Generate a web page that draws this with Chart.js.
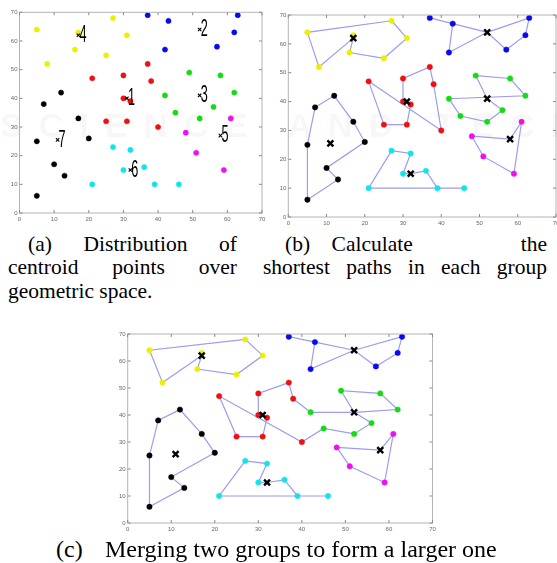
<!DOCTYPE html>
<html>
<head>
<meta charset="utf-8">
<script src="https://cdn.jsdelivr.net/npm/chart.js@4.4.1/dist/chart.umd.min.js"></script>
<style>
  html, body { margin:0; padding:0; background:#fff; width:557px; height:563px; overflow:hidden; }
  body { position:relative; }
  canvas { position:absolute; }
  .wm { position:absolute; left:0px; top:106px; font:bold 34px "Liberation Sans", Arial, sans-serif; letter-spacing:16px; color:rgba(0,0,0,0.045); white-space:nowrap; }
  .cap { position:absolute; font-family:"Liberation Serif", "Times New Roman", serif; font-size:21.5px; line-height:23.5px; color:#000; }
  .cap .ln { display:flex; justify-content:space-between; white-space:pre; height:23.5px; }
  .cap .last { white-space:pre; height:23.5px; }
  .capc { position:absolute; font-family:"Liberation Serif", "Times New Roman", serif; font-size:24px; line-height:24px; color:#000; white-space:nowrap; }
</style>
</head>
<body>
<div class="wm">SCIENCE AND TECHNOLOGY</div>
<canvas id="ca" width="272" height="228" style="left:0px;top:0px"></canvas>
<canvas id="cb" width="290" height="232" style="left:275px;top:0px"></canvas>
<canvas id="cc" width="345" height="215" style="left:100px;top:325px"></canvas>

<div class="cap" style="left:8px;top:232.5px;width:229px">
  <div class="ln" style="padding-left:20px"><span>(a)</span><span>Distribution</span><span>of</span></div>
  <div class="ln"><span>centroid</span><span>points</span><span>over</span></div>
  <div class="last">geometric space.</div>
</div>
<div class="cap" style="left:263px;top:232.5px;width:284px">
  <div class="ln" style="padding-left:22px"><span>(b)&#8195;Calculate</span><span>the</span></div>
  <div class="ln"><span>shortest</span><span>paths</span><span>in</span><span>each</span><span>group</span></div>
</div>
<div class="capc" style="left:56px;top:537px">(c)</div>
<div class="capc" style="left:105px;top:537px">Merging two groups to form a larger one</div>

<script>
// ---------------- data ----------------
const axisTicks = [0, 10, 20, 30, 40, 50, 60, 70];

const groupNames  = ['1', '2', '3', '4', '5', '6', '7'];
const groupColors = ['#ee1111', '#0a0aee', '#12dd12', '#eeee00', '#ee11ee', '#10e4ee', '#000000'];

const pointsRed     = [[21,47],[30,48],[37,52],[38,46],[30,40],[32,39],[25,32],[31,32],[40,30]];
const pointsBlue    = [[37,69],[43,67],[42,57],[57,58],[62,63],[63,69]];
const pointsGreen   = [[49,49],[58,48],[42,41],[62,42],[56,37],[45,35],[52,33]];
const pointsYellow  = [[5,64],[8,52],[16,57],[17,63],[25,55],[27,68],[31,62]];
const pointsMagenta = [[48,28],[61,33],[51,21],[59,15]];
const pointsCyan    = [[27,23],[32,22],[30,15],[36,16],[21,10],[39,10],[46,10]];
const pointsBlack   = [[12,42],[7,38],[17,33],[5,25],[20,26],[10,17],[13,13],[5,6]];

const centroids = [[31,40],[52,64],[52,41],[17,62],[58,27],[32,15],[11,25.5]];

// shortest paths in each group (b)
const pathRed     = [[21,47],[25,32],[31,32],[32,39],[30,40],[30,48],[37,52],[38,46],[40,30],[21,47]];
const pathBlue    = [[37,69],[43,67],[52,64],[57,58],[62,63],[63,69],[52,64],[42,57],[43,67]];
const pathGreen   = [[49,49],[58,48],[62,42],[42,41],[45,35],[52,33],[56,37],[52,41],[49,49]];
const pathYellow  = [[27,68],[31,62],[25,55],[16,57],[17,62],[8,52],[5,64],[27,68]];
const pathMagenta = [[48,28],[58,27],[61,33],[59,15],[51,21],[48,28]];
const pathCyan    = [[39,10],[36,16],[32,15],[30,15],[32,22],[27,23],[21,10],[46,10]];
const pathBlack   = [[5,6],[13,13],[10,17],[20,26],[17,33],[12,42],[7,38],[5,25],[5,6]];

// merged red + green path (c)
const pathMerged  = [[38,46],[42,41],[52,41],[62,42],[58,48],[49,49],[52,41],[56,37],[52,33],[45,35],[40,30],
                     [21,47],[25,32],[31,32],[32,39],[30,40],[30,48],[37,52],[38,46]];

// ---------------- helpers ----------------
const groupPoints = [pointsRed, pointsBlue, pointsGreen, pointsYellow, pointsMagenta, pointsCyan, pointsBlack];
const toXY = arr => arr.map(p => ({x:p[0], y:p[1]}));
const LINE_COLOR = '#9c9cf0';

function pointDatasets(radius) {
  return groupPoints.map((pts, i) => ({
    type:'scatter', data:toXY(pts), order:1,
    pointRadius:radius, pointHoverRadius:radius,
    backgroundColor:groupColors[i], borderColor:groupColors[i], borderWidth:0.5
  }));
}
function pathDatasets(paths) {
  return paths.map(p => ({
    type:'scatter', data:toXY(p), order:2, showLine:true,
    borderColor:LINE_COLOR, borderWidth:1.2, pointRadius:0, fill:false, tension:0
  }));
}
function centroidDataset(radius, width) {
  return {
    type:'scatter', data:toXY(centroids), order:0,
    pointStyle:'crossRot', pointRadius:radius, pointHoverRadius:radius,
    borderColor:'#000', backgroundColor:'#000', borderWidth:width
  };
}

const boxPlugin = {
  id:'box',
  afterDraw(chart) {
    const {ctx, chartArea:a, scales} = chart;
    ctx.save();
    ctx.strokeStyle = '#b4b4b4';
    ctx.lineWidth = 1;
    ctx.strokeRect(a.left, a.top, a.right - a.left, a.bottom - a.top);
    ctx.strokeStyle = '#8a8a8a';
    ctx.beginPath();
    axisTicks.forEach(v => {
      const px = scales.x.getPixelForValue(v);
      const py = scales.y.getPixelForValue(v);
      ctx.moveTo(px, a.bottom); ctx.lineTo(px, a.bottom - 3);
      ctx.moveTo(px, a.top);    ctx.lineTo(px, a.top + 3);
      ctx.moveTo(a.left, py);   ctx.lineTo(a.left + 3, py);
      ctx.moveTo(a.right, py);  ctx.lineTo(a.right - 3, py);
    });
    ctx.stroke();
    ctx.restore();
  }
};

const labelPlugin = {
  id:'centroidLabels',
  afterDatasetsDraw(chart) {
    const {ctx, scales} = chart;
    ctx.save();
    ctx.fillStyle = '#000';
    ctx.font = '23px "Liberation Sans", Arial, sans-serif';
    ctx.textBaseline = 'middle';
    ctx.textAlign = 'left';
    centroids.forEach((c, i) => {
      const px = scales.x.getPixelForValue(c[0]);
      const py = scales.y.getPixelForValue(c[1]);
      ctx.save();
      ctx.translate(px + 1, py + 0.5);
      ctx.scale(0.55, 1);
      ctx.fillText(groupNames[i], 0, 0);
      ctx.restore();
    });
    ctx.restore();
  }
};

function makeChart(id, datasets, geo, plugins) {
  const tickFont = {family:'"Liberation Sans", Arial, sans-serif', size:6};
  return new Chart(document.getElementById(id), {
    data:{datasets},
    options:{
      responsive:false, animation:false, devicePixelRatio:1,
      layout:{padding:{left:0, right:geo.pr, top:geo.pt, bottom:geo.pb}},
      plugins:{legend:{display:false}, tooltip:{enabled:false}},
      scales:{
        x:{type:'linear', min:0, max:70,
           grid:{display:false, drawTicks:false}, border:{display:false},
           ticks:{stepSize:10, autoSkip:false, maxRotation:0, font:tickFont, color:'#666', padding:3},
           afterBuildTicks:s => { s.ticks = axisTicks.map(v => ({value:v})); },
           afterFit:s => { s.height = geo.xh; }},
        y:{type:'linear', min:0, max:70,
           grid:{display:false, drawTicks:false}, border:{display:false},
           ticks:{stepSize:10, autoSkip:false, font:tickFont, color:'#666', padding:2},
           afterBuildTicks:s => { s.ticks = axisTicks.map(v => ({value:v})); },
           afterFit:s => { s.width = geo.yw; }}
      }
    },
    plugins:[boxPlugin].concat(plugins || [])
  });
}

// (a) distribution of centroid points
makeChart('ca',
  [centroidDataset(2.4, 1.1)].concat(pointDatasets(2.6)),
  {yw:19.5, pr:10, pt:12.3, pb:3, xh:12}, [labelPlugin]);

// (b) shortest paths in each group
makeChart('cb',
  [centroidDataset(4.2, 2.4)].concat(pointDatasets(2.7),
    pathDatasets([pathRed, pathBlue, pathGreen, pathYellow, pathMagenta, pathCyan, pathBlack])),
  {yw:13.3, pr:9, pt:15, pb:3, xh:12}, []);

// (c) merging two groups
makeChart('cc',
  [centroidDataset(4.2, 2.4)].concat(pointDatasets(2.7),
    pathDatasets([pathMerged, pathBlue, pathYellow, pathMagenta, pathCyan, pathBlack])),
  {yw:27.7, pr:12.5, pt:9, pb:5, xh:12}, []);
</script>
</body>
</html>
